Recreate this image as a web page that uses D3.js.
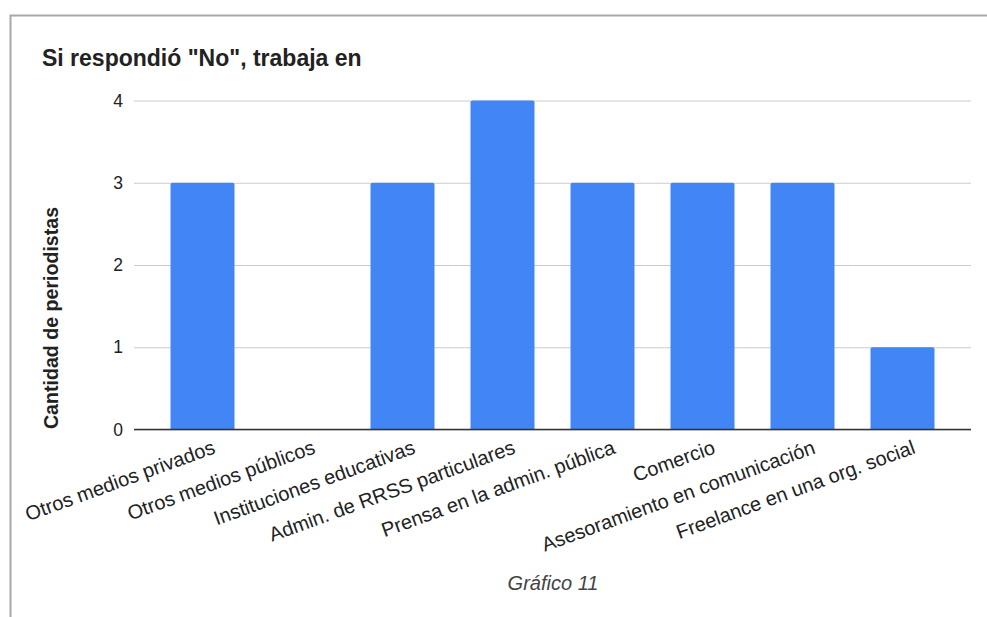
<!DOCTYPE html>
<html><head><meta charset="utf-8">
<script src="https://cdn.jsdelivr.net/npm/d3@7"></script>
<style>html,body{margin:0;padding:0;background:#fff;}svg{display:block;}</style>
</head><body>
<script>
const categories = ["Otros medios privados","Otros medios públicos","Instituciones educativas","Admin. de RRSS particulares","Prensa en la admin. pública","Comercio","Asesoramiento en comunicación","Freelance en una org. social"];
const values = [3,0,3,4,3,3,3,1];
const yTicks = [0,1,2,3,4];
const title = 'Si respondió "No", trabaja en';
const yTitle = "Cantidad de periodistas";
const caption = "Gráfico 11";

(function(){
const W = 987, H = 617;
const font = "Arial, 'Liberation Sans', sans-serif";
const svg = d3.select("body").append("svg").attr("width", W).attr("height", H);
svg.append("rect").attr("width", W).attr("height", H).attr("fill", "#fff");
// frame
svg.append("path").attr("d", `M10.5,${H} V15.5 H${W}`).attr("fill","none").attr("stroke","#a8a8a8").attr("stroke-width",2);

const pL = 134, pR = 971, pT = 100.5, pB = 429.5;
const x = d3.scaleBand().domain(categories).range([pL+18.5, pR-18.5]).paddingInner(0.36).paddingOuter(0.18);
const y = d3.scaleLinear().domain([0,4]).range([pB, pT]);

// grid
const yAxis = d3.axisLeft(y).tickValues(yTicks).tickFormat(d3.format("d")).tickSize(-(pR-pL)).tickPadding(11);
const gy = svg.append("g").attr("transform", `translate(${pL},0)`).call(yAxis);
gy.select(".domain").remove();
gy.selectAll(".tick line").attr("stroke","#cccccc").attr("stroke-width",1);
gy.selectAll(".tick text").attr("font-family",font).attr("font-size",17.5).attr("fill","#222");

// bars
svg.append("g").selectAll("path").data(categories).join("path")
  .attr("fill","#4285f4")
  .attr("d",(c,i)=>{
    const x0 = x(c), w = x.bandwidth(), y0 = y(values[i]), y1 = y(0), r = Math.min(2, (y1-y0)/2);
    if (values[i] <= 0) return "";
    return `M${x0},${y1} V${y0+r} Q${x0},${y0} ${x0+r},${y0} H${x0+w-r} Q${x0+w},${y0} ${x0+w},${y0+r} V${y1} Z`;
  });

// baseline
svg.append("line").attr("x1",pL).attr("x2",pR).attr("y1",y(0)).attr("y2",y(0)).attr("stroke","#333").attr("stroke-width",1.5);

// x labels
const xAxis = d3.axisBottom(x).tickSize(0).tickPadding(0);
const gx = svg.append("g").attr("transform",`translate(0,${pB})`).call(xAxis);
gx.select(".domain").remove();
gx.selectAll(".tick text")
  .attr("font-family",font).attr("font-size",20).attr("fill","#222")
  .attr("text-anchor","end").attr("y",0).attr("dy","0.71em")
  .attr("transform","translate(9,10) rotate(-20)");

// title
svg.append("text").attr("x",42).attr("y",66).attr("font-family",font).attr("font-size",23).attr("font-weight","bold").attr("fill","#222").text(title);
// y title
svg.append("text").attr("transform",`translate(58,318) rotate(-90)`).attr("text-anchor","middle")
  .attr("font-family",font).attr("font-size",19.6).attr("font-weight","bold").attr("fill","#222").text(yTitle);
// caption
svg.append("text").attr("x",553).attr("y",590).attr("text-anchor","middle").attr("font-family",font).attr("font-size",20).attr("font-style","italic").attr("fill","#444").text(caption);
})();
</script>
</body></html>
